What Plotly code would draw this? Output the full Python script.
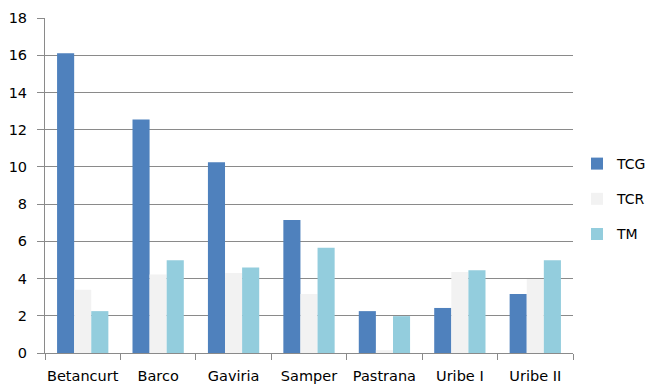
import plotly.graph_objects as go

categories = ["Betancurt", "Barco", "Gaviria", "Samper", "Pastrana", "Uribe I", "Uribe II"]
tcg = [16.1, 12.55, 10.25, 7.15, 2.25, 2.42, 3.17]
tcr = [3.4, 4.22, 4.3, 3.17, 0.15, 4.35, 3.98]
tm = [2.25, 4.98, 4.6, 5.65, 1.98, 4.45, 4.98]

series = [
    ("TCG", tcg, "#4F81BD"),
    ("TCR", tcr, "#F2F2F2"),
    ("TM", tm, "#93CDDD"),
]

fig = go.Figure()
for name, vals, color in series:
    fig.add_trace(go.Bar(
        x=categories, y=vals, name=name,
        marker=dict(color=color, line=dict(width=0)),
        legendgroup=name,
    ))

font_family = "DejaVu Sans"
fig.update_layout(
    width=649, height=385,
    margin=dict(l=45, r=76, t=18, b=32),
    paper_bgcolor="white", plot_bgcolor="white",
    barmode="group", bargap=0.32, bargroupgap=0,
    font=dict(family=font_family, size=14.5, color="#000000"),
    showlegend=True,
    legend=dict(
        xref="container", yref="container",
        x=577 / 649, y=1 - 199 / 385, xanchor="left", yanchor="middle",
        tracegroupgap=14, font=dict(size=14),
        itemwidth=30, bgcolor="rgba(0,0,0,0)",
    ),
)
fig.update_xaxes(
    type="category", tickangle=0, automargin=False,
    showline=True, linecolor="#8a8a8a", linewidth=1,
    ticks="outside", tickson="boundaries", ticklen=6, tickcolor="#8a8a8a",
    showgrid=False, ticklabelstandoff=10,
)
fig.update_yaxes(
    range=[0, 18], dtick=2, automargin=False,
    showline=True, linecolor="#8a8a8a", linewidth=1,
    ticks="outside", ticklen=7, tickcolor="#8a8a8a",
    showgrid=True, gridcolor="#8a8a8a", gridwidth=1,
    zeroline=False, ticklabelstandoff=7,
)

fig.write_html("out.html")
